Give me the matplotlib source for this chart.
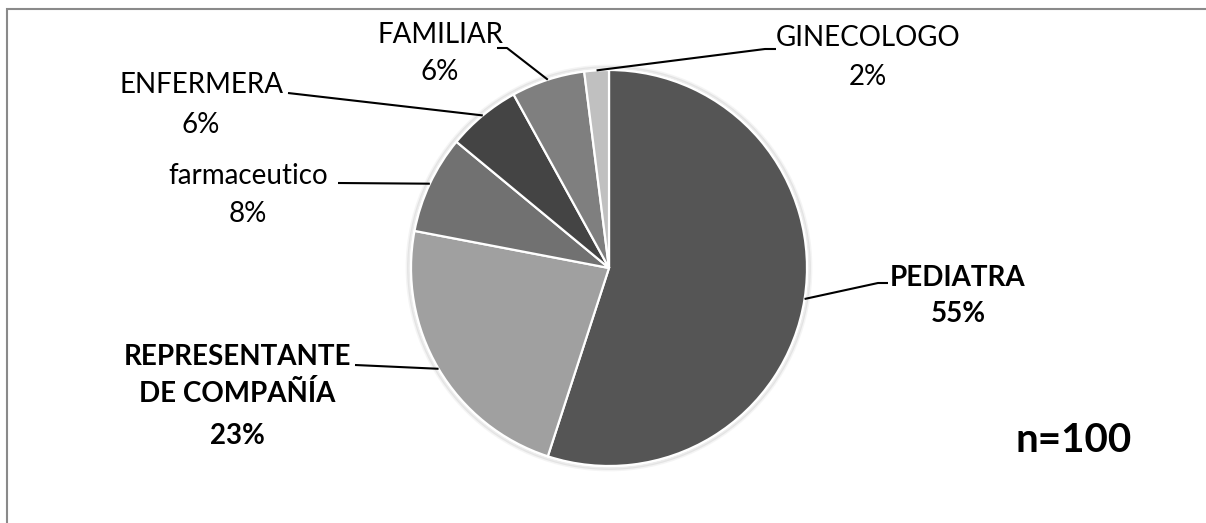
import matplotlib
matplotlib.use("Agg")
import matplotlib.pyplot as plt
import numpy as np
from matplotlib.patches import Circle, Rectangle

# Source of information on the product, share of respondents (%)
categories = ["PEDIATRA", "REPRESENTANTE\nDE COMPAÑÍA", "farmaceutico",
              "ENFERMERA", "FAMILIAR", "GINECOLOGO"]
values = [55, 23, 8, 6, 6, 2]
bold_labels = [True, True, False, False, False, False]
colors = ["#555555", "#a0a0a0", "#717171", "#444444", "#7f7f7f", "#c0c0c0"]
sample_note = "n=100"

W, H = 1206, 523
plt.rcParams["font.family"] = ["Lato", "DejaVu Sans"]

fig = plt.figure(figsize=(W / 100, H / 100), dpi=100)
ax = fig.add_axes([0, 0, 1, 1])


def py(y):
    """Convert a top-down pixel row into the axes' bottom-up coordinate."""
    return H - y


cx, cy, r = 609, py(268), 198

# soft halo around the pie
for k, a in [(4, 0.10), (2.5, 0.18)]:
    ax.add_patch(Circle((cx, cy), r + k, facecolor="none",
                        edgecolor="#9a9a9a", lw=2, alpha=a, zorder=1))

wedges, _ = ax.pie(values, colors=colors, startangle=90, counterclock=False,
                   center=(cx, cy), radius=r,
                   wedgeprops=dict(edgecolor="white", linewidth=1.6))
for w in wedges:
    w.set_zorder(2)

# label layout: elbow point of the leader, text centre, row of each text line
layout = [
    dict(elbow=[(878, 283), (888, 283)], x=958, rows=[278, 314]),
    dict(elbow=[(355, 365)], x=237, rows=[357, 394, 436]),
    dict(elbow=[(338, 183)], x=248, rows=[176, 214]),
    dict(elbow=[(288, 93)], x=201, rows=[85, 125]),
    dict(elbow=[(507, 48), (497, 48)], x=440, rows=[35, 72]),
    dict(elbow=[(765, 49), (776, 49)], x=868, rows=[38, 77]),
]

for w, name, v, bold, lay in zip(wedges, categories, values, bold_labels, layout):
    mid = np.deg2rad((w.theta1 + w.theta2) / 2)
    ex, ey = cx + r * np.cos(mid), cy + r * np.sin(mid)
    xs = [ex] + [p[0] for p in lay["elbow"]]
    ys = [ey] + [py(p[1]) for p in lay["elbow"]]
    ax.plot(xs, ys, color="black", lw=1.5, zorder=3, solid_capstyle="butt")
    lines = name.split("\n") + [f"{v}%"]
    for txt, row in zip(lines, lay["rows"]):
        ax.text(lay["x"], py(row), txt, ha="center", va="center",
                fontsize=20, fontweight="bold" if bold else "normal",
                color="black", zorder=4)

ax.text(1074, py(440), sample_note, ha="center", va="center",
        fontsize=29, fontweight="bold", color="black")

# chart-area border (extends past the right and bottom edges)
ax.add_patch(Rectangle((6.5, py(9) - 600), 1300, 600, facecolor="none",
                       edgecolor="#8a8a8a", lw=1.5, zorder=0, clip_on=False))

ax.set_xlim(0, W)
ax.set_ylim(0, H)
ax.set_aspect("auto")
ax.axis("off")

fig.savefig("out.png", dpi=100, facecolor="white")
